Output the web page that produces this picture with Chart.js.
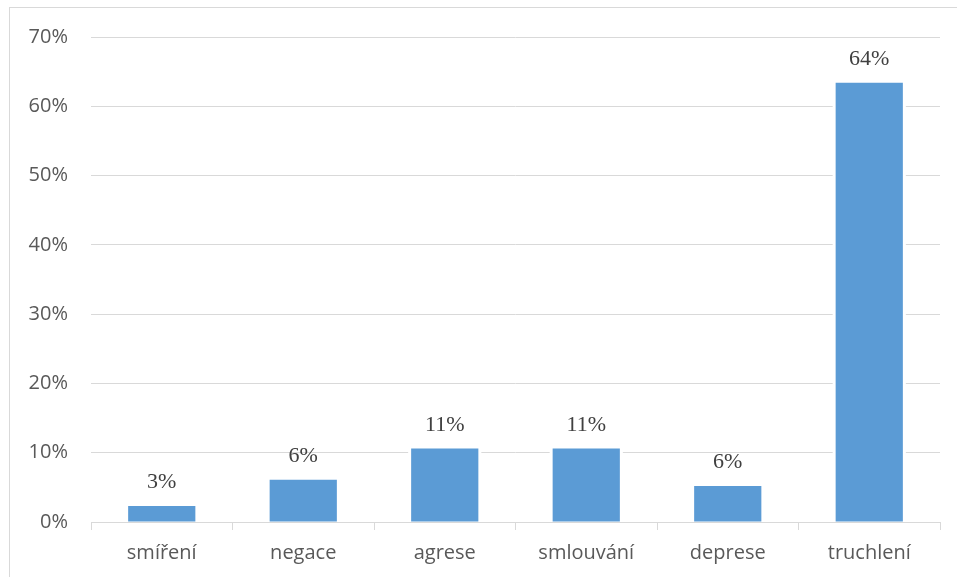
<!DOCTYPE html>
<html>
<head>
<meta charset="utf-8">
<script src="https://cdn.jsdelivr.net/npm/chart.js@4"></script>
<style>
    html, body { margin: 0; padding: 0; background: #ffffff; }
    body { width: 957px; height: 577px; overflow: hidden; position: relative; }
    #ramec {
        position: absolute; left: 9px; top: 7px; width: 980px; height: 600px;
        border: 1px solid #d9d9d9; box-sizing: border-box;
    }
    #obal { position: absolute; left: 0; top: 0; width: 957px; height: 577px; }
</style>
</head>
<body>
<div id="ramec"></div>
<div id="obal"><canvas id="graf" width="957" height="577"></canvas></div>
<script>
// Kategorie a hodnoty (v procentech)
const kategorie = ['smíření', 'negace', 'agrese', 'smlouvání', 'deprese', 'truchlení'];
const hodnoty = [2.3, 6.1, 10.6, 10.6, 5.2, 63.4];
const popisky = ['3%', '6%', '11%', '11%', '6%', '64%'];
const osaY = [0, 10, 20, 30, 40, 50, 60, 70];

// Bílý lem kolem sloupců (mřížka se u sloupců přerušuje)
const lemSloupcu = {
    id: 'lemSloupcu',
    beforeDatasetsDraw(chart) {
        const ctx = chart.ctx;
        chart.getDatasetMeta(0).data.forEach(bar => {
            ctx.save();
            ctx.fillStyle = '#ffffff';
            ctx.fillRect(bar.x - bar.width / 2 - 3, bar.y - 3, bar.width + 6, bar.base - bar.y + 2);
            ctx.restore();
        });
    }
};

// Popisky hodnot nad sloupci
const popiskyHodnot = {
    id: 'popiskyHodnot',
    afterDatasetsDraw(chart) {
        const ctx = chart.ctx;
        ctx.save();
        ctx.font = '22px "Liberation Serif", "DejaVu Serif", serif';
        ctx.fillStyle = '#404040';
        ctx.textAlign = 'center';
        ctx.textBaseline = 'alphabetic';
        chart.getDatasetMeta(0).data.forEach((bar, i) => {
            ctx.fillText(popisky[i], bar.x, bar.y - 18);
        });
        ctx.restore();
    }
};

new Chart(document.getElementById('graf'), {
    type: 'bar',
    data: {
        labels: kategorie,
        datasets: [{
            data: hodnoty,
            backgroundColor: '#5b9bd5',
            borderWidth: 0,
            categoryPercentage: 1,
            barPercentage: 0.475
        }]
    },
    options: {
        responsive: false,
        animation: false,
        layout: { padding: { top: 37, right: 17, bottom: 0, left: 0 } },
        plugins: {
            legend: { display: false },
            tooltip: { enabled: false }
        },
        scales: {
            x: {
                afterFit: (scale) => { scale.height = 55; },
                grid: {
                    offset: true,
                    drawOnChartArea: false,
                    drawTicks: true,
                    tickLength: 8,
                    color: '#d9d9d9'
                },
                border: { display: true, color: '#d9d9d9', width: 1 },
                ticks: {
                    padding: 11,
                    color: '#595959',
                    font: { family: '"Open Sans", "Liberation Sans", sans-serif', size: 20 }
                }
            },
            y: {
                min: 0,
                max: 70,
                afterFit: (scale) => { scale.width = 91; },
                afterBuildTicks: (scale) => { scale.ticks = osaY.map(v => ({ value: v })); },
                grid: { color: '#d9d9d9', lineWidth: 1, drawTicks: false },
                border: { display: false },
                ticks: {
                    padding: 23,
                    color: '#595959',
                    font: { family: '"Open Sans", "Liberation Sans", sans-serif', size: 20 },
                    callback: (v) => v + '%'
                }
            }
        }
    },
    plugins: [lemSloupcu, popiskyHodnot]
});
</script>
</body>
</html>
